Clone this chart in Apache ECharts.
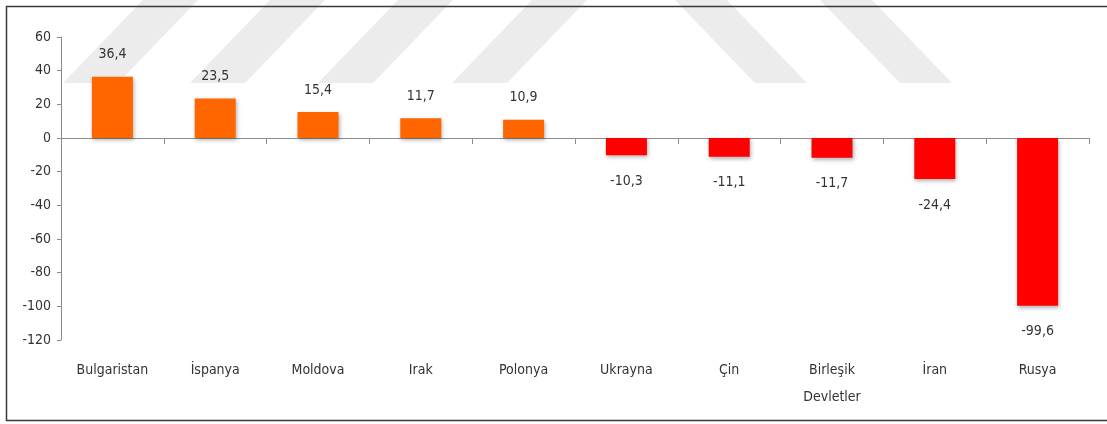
<!DOCTYPE html>
<html>
<head>
<meta charset="utf-8">
<script src="https://cdn.jsdelivr.net/npm/echarts@6/dist/echarts.min.js"></script>
<style>
  html, body { margin: 0; padding: 0; background: #fff; }
  #chart { width: 1107px; height: 424px; }
</style>
</head>
<body>
<div id="chart"></div>
<script>
    // ülkeler ve değerler
    var categories = ['Bulgaristan', 'İspanya', 'Moldova', 'Irak', 'Polonya', 'Ukrayna', 'Çin', 'Birleşik\nDevletler', 'İran', 'Rusya'];
    var values = [36.4, 23.5, 15.4, 11.7, 10.9, -10.3, -11.1, -11.7, -24.4, -99.6];
    var yTicks = [-120, -100, -80, -60, -40, -20, 0, 20, 40, 60];

    var fontFamily = '"Liberation Sans Narrow", "DejaVu Sans Condensed", "Noto Sans", sans-serif';
    var textColor = '#333';

    var barEchart = echarts.init(document.getElementById('chart'));

    // pozitif turuncu, negatif kırmızı
    var seriesData = values.map(function (v) {
        var pos = v >= 0;
        return {
            value: v,
            itemStyle: { color: pos ? '#ff6600' : '#ff0000' },
            label: { position: pos ? 'top' : 'bottom', distance: pos ? 15 : 19 }
        };
    });

    // arka plandaki filigran şeritleri
    var bandColor = '#ececec';
    var leftBands = [63, 190, 318, 452];
    var rightBands = [755, 900];
    var watermark = [];
    leftBands.forEach(function (x) {
        watermark.push({
            type: 'polygon', z: -10, silent: true,
            shape: { points: [[x, 83], [x + 55, 83], [x + 135, 0], [x + 80, 0]] },
            style: { fill: bandColor }
        });
    });
    rightBands.forEach(function (x) {
        watermark.push({
            type: 'polygon', z: -10, silent: true,
            shape: { points: [[x, 83], [x + 52, 83], [x - 28, 0], [x - 80, 0]] },
            style: { fill: bandColor }
        });
    });
    watermark.push({
        type: 'rect', z: 100, silent: true,
        shape: { x: 6.5, y: 6.5, width: 1110, height: 414 },
        style: { fill: 'none', stroke: '#3a3a3a', lineWidth: 1.5 }
    });

    var option = {
        backgroundColor: '#fff',
        animation: false,
        graphic: watermark,
        grid: { left: 61, right: 18, top: 37, bottom: 84 },
        xAxis: [
            {
                // sıfır çizgisi ve tikler
                type: 'category',
                data: categories,
                axisLine: { onZero: true, lineStyle: { color: '#8c8c8c', width: 1 } },
                axisTick: { show: true, length: 6, lineStyle: { color: '#8c8c8c' } },
                axisLabel: { show: false },
                splitLine: { show: false }
            },
            {
                // etiketler altta
                type: 'category',
                data: categories,
                position: 'bottom',
                axisLine: { show: false, onZero: false },
                axisTick: { show: false },
                splitLine: { show: false },
                axisLabel: {
                    interval: 0,
                    margin: 17,
                    color: textColor,
                    fontFamily: fontFamily,
                    fontSize: 14,
                    lineHeight: 27
                }
            }
        ],
        yAxis: {
            type: 'value',
            min: yTicks[0],
            max: yTicks[yTicks.length - 1],
            interval: 20,
            axisLine: { show: true, lineStyle: { color: '#8c8c8c', width: 1 } },
            axisTick: { show: true, length: 4, lineStyle: { color: '#8c8c8c' } },
            splitLine: { show: false },
            axisLabel: {
                margin: 10,
                color: textColor,
                fontFamily: fontFamily,
                fontSize: 14
            }
        },
        series: [
            {
                type: 'bar',
                xAxisIndex: 0,
                barWidth: 41,
                data: seriesData,
                itemStyle: {
                    shadowBlur: 4,
                    shadowOffsetX: 1,
                    shadowOffsetY: 2,
                    shadowColor: 'rgba(0,0,0,0.3)'
                },
                label: {
                    show: true,
                    color: textColor,
                    fontFamily: fontFamily,
                    fontSize: 14,
                    formatter: function (p) {
                        return String(p.value).replace('.', ',');
                    }
                }
            }
        ]
    };
    barEchart.setOption(option);
</script>
</body>
</html>
